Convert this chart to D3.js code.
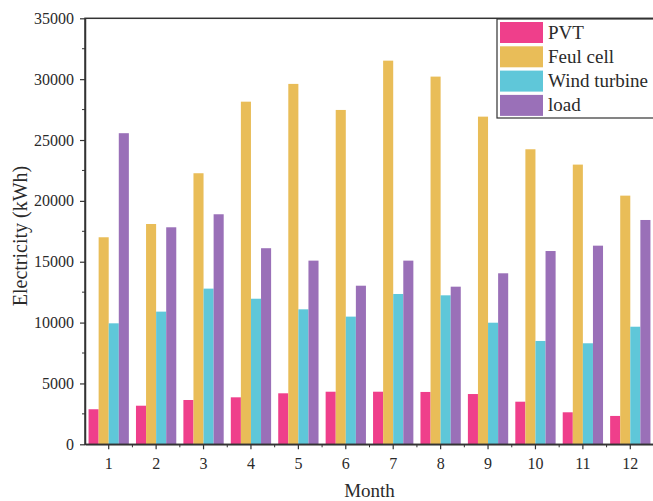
<!DOCTYPE html>
<html>
<head>
<meta charset="utf-8">
<script src="https://cdn.jsdelivr.net/npm/d3@7/dist/d3.min.js"></script>
<style>
  html, body { margin: 0; padding: 0; background: #fff; }
  svg { display: block; font-family: "Liberation Serif", "Times New Roman", serif; }
</style>
</head>
<body>
<svg id="chart" width="653" height="501"></svg>
<script>
const months = ["1","2","3","4","5","6","7","8","9","10","11","12"];
const seriesNames = ["PVT", "Feul cell", "Wind turbine", "load"];
const pvt = [2880, 3170, 3640, 3860, 4190, 4320, 4320, 4300, 4130, 3500, 2630, 2330];
const fuelCell = [17010, 18100, 22270, 28150, 29610, 27470, 31520, 30210, 26920, 24240, 22980, 20430];
const windTurbine = [9940, 10900, 12790, 11960, 11090, 10490, 12350, 12240, 9990, 8490, 8300, 9660];
const load = [25560, 17830, 18900, 16110, 15090, 13030, 15090, 12950, 14050, 15880, 16320, 18430];
const yTicks = [0, 5000, 10000, 15000, 20000, 25000, 30000, 35000];
const colors = ["#ef3f8b", "#e9bd58", "#5fc7d9", "#9a70b8"];

const seriesValues = [pvt, fuelCell, windTurbine, load];

const svg = d3.select("#chart");
const pLeft = 85, pRight = 654, pTop = 18.3, pBottom = 444.3;

const x = d3.scaleBand().domain(months).range([pLeft, pRight]).paddingInner(0.15).paddingOuter(0.075);
const xs = d3.scaleBand().domain(seriesNames).range([0, x.bandwidth()]).padding(0);
const y = d3.scaleLinear().domain([0, 35000]).range([pBottom, pTop]);
const color = d3.scaleOrdinal().domain(seriesNames).range(colors);

// bars
const groups = svg.append("g").selectAll("g")
  .data(months)
  .join("g")
  .attr("transform", d => `translate(${x(d)},0)`);

groups.selectAll("rect")
  .data((m, i) => seriesNames.map((s, j) => ({ s, v: seriesValues[j][i] })))
  .join("rect")
  .attr("x", d => xs(d.s))
  .attr("width", xs.bandwidth())
  .attr("y", d => y(d.v))
  .attr("height", d => y(0) - y(d.v))
  .attr("fill", d => color(d.s));

const textColor = "#2a2a2a";
const axisColor = "#333";

// frame
svg.append("rect")
  .attr("x", pLeft).attr("y", pTop)
  .attr("width", pRight - pLeft).attr("height", pBottom - pTop)
  .attr("fill", "none").attr("stroke", axisColor).attr("stroke-width", 1.5);

// y axis
const yAxis = svg.append("g")
  .attr("transform", `translate(${pLeft},0)`)
  .call(d3.axisLeft(y).tickValues(yTicks).tickSize(5).tickSizeOuter(0).tickPadding(6).tickFormat(d3.format("d")));
yAxis.select(".domain").attr("stroke", axisColor).attr("stroke-width", 1.5);
yAxis.selectAll(".tick line").attr("stroke", axisColor).attr("stroke-width", 1.2);
yAxis.selectAll(".tick text").attr("fill", textColor).attr("font-size", 16)
  .attr("font-family", "'Liberation Serif', 'Times New Roman', serif");

// y minor ticks
svg.append("g").selectAll("line")
  .data(d3.range(2500, 35000, 5000))
  .join("line")
  .attr("x1", pLeft - 3).attr("x2", pLeft)
  .attr("y1", d => y(d)).attr("y2", d => y(d))
  .attr("stroke", axisColor).attr("stroke-width", 1);

// x axis
const xAxis = svg.append("g")
  .attr("transform", `translate(0,${pBottom})`)
  .call(d3.axisBottom(x).tickSize(5).tickSizeOuter(0).tickPadding(8));
xAxis.select(".domain").attr("stroke", axisColor).attr("stroke-width", 1.5);
xAxis.selectAll(".tick line").attr("stroke", axisColor).attr("stroke-width", 1.2);
xAxis.selectAll(".tick text").attr("fill", textColor).attr("font-size", 16)
  .attr("font-family", "'Liberation Serif', 'Times New Roman', serif");

// x minor ticks (between months)
svg.append("g").selectAll("line")
  .data(months)
  .join("line")
  .attr("x1", d => x(d) + x.bandwidth() / 2 + x.step() / 2)
  .attr("x2", d => x(d) + x.bandwidth() / 2 + x.step() / 2)
  .attr("y1", pBottom).attr("y2", pBottom + 3)
  .attr("stroke", axisColor).attr("stroke-width", 1);

// axis titles
svg.append("text")
  .attr("x", (pLeft + pRight) / 2).attr("y", 497)
  .attr("text-anchor", "middle")
  .attr("font-size", 19)
  .attr("fill", textColor)
  .text("Month");

svg.append("text")
  .attr("transform", `translate(27,236) rotate(-90)`)
  .attr("text-anchor", "middle")
  .attr("font-size", 20)
  .attr("fill", textColor)
  .text("Electricity (kWh)");

// legend
const lg = svg.append("g").attr("transform", "translate(497,19)");
lg.append("rect")
  .attr("x", 0).attr("y", 0).attr("width", 170).attr("height", 99)
  .attr("fill", "#fff").attr("stroke", axisColor).attr("stroke-width", 1.2);
const items = lg.selectAll("g.item")
  .data(seriesNames)
  .join("g")
  .attr("class", "item")
  .attr("transform", (d, i) => `translate(0,${3 + i * 24.3})`);
items.append("rect")
  .attr("x", 3).attr("y", 0).attr("width", 43).attr("height", 21)
  .attr("fill", d => color(d));
items.append("text")
  .attr("x", 51).attr("y", 16.5)
  .attr("font-size", 19)
  .attr("fill", textColor)
  .text(d => d);
</script>
</body>
</html>
